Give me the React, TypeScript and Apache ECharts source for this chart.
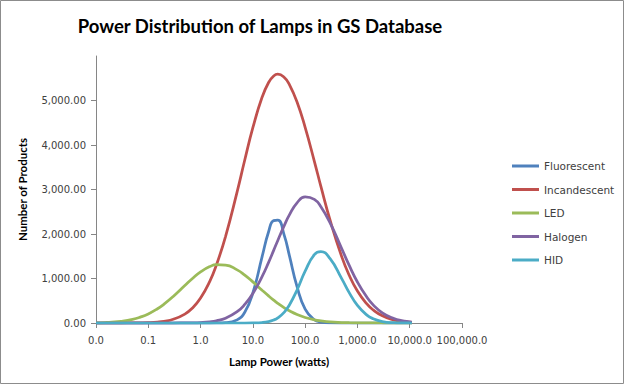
import React, { useEffect, useRef } from "react";
import * as echarts from "echarts";

const titleText = "Power Distribution of Lamps in GS Database";
const xAxisName = "Lamp Power (watts)";
const yAxisName = "Number of Products";
const seriesNames = ["Fluorescent", "Incandescent", "LED", "Halogen", "HID"];
const seriesColors = ["#4F81BD", "#C0504D", "#9BBB59", "#8064A2", "#4BACC6"];

// Lamp power (watts), log axis
const powerW = [
  0.01, 0.015, 0.02, 0.03, 0.05, 0.07,
  0.1, 0.15, 0.2, 0.3, 0.5, 0.7,
  1, 1.5, 2, 3, 5, 7,
  10, 15, 20, 25, 30, 40, 50, 70,
  100, 150, 200, 300, 500, 700,
  1000, 1500, 2000, 3000, 5000, 7000,
  10000, 11000,
];

const fluorescent = [
  0, 0, 0, 0, 0, 0, 0, 0, 0, 0, 0, 0, 0, 0,
  1, 6, 70, 243, 675, 1487, 2051, 2300, 2310, 1962, 1513, 815, 314, 73, 21, 2,
  0, 0, 0, 0, 0, 0, 0, 0, 0, 0,
];
const incandescent = [
  0, 0, 0, 0, 2, 4, 9, 21, 38, 83,
  200, 337, 561, 937, 1298, 1943, 2946, 3662, 4388, 5073,
  5405, 5550, 5590, 5517, 5357, 4966, 4396, 3634, 3070, 2310,
  1492, 1067, 717, 433, 293, 161, 70, 39, 20, 16,
];
const led = [
  5, 11, 19, 38, 82, 131, 204, 320, 423, 596,
  841, 1000, 1148, 1267, 1309, 1302, 1194, 1076, 924, 738,
  609, 514, 442, 341, 274, 190, 124, 72, 48, 25,
  11, 6, 3, 1, 1, 0, 0, 0, 0, 0,
];
const halogen = [
  0, 0, 0, 0, 0, 0, 0, 0, 0, 0,
  2, 4, 11, 27, 49, 107, 254, 417, 664, 1042,
  1363, 1632, 1855, 2195, 2429, 2699, 2834, 2777, 2613, 2250,
  1672, 1288, 922, 588, 408, 228, 99, 53, 26, 21,
];
const hid = [
  0, 0, 0, 0, 0, 0, 0, 0, 0, 0, 0, 0, 0, 0, 0, 0, 0, 0,
  2, 11, 32, 67, 116, 246, 405, 742, 1165, 1536, 1603, 1445,
  998, 677, 395, 183, 96, 33, 7, 2, 1, 0,
];
const seriesValues = [fluorescent, incandescent, led, halogen, hid];
const yTicks = [0, 1000, 2000, 3000, 4000, 5000];

const tickFont = "DejaVu Sans";
const boldFont = "Lato";
const textColor = "#404040";
const axisColor = "#868686";

export default function App() {
  const ref = useRef<HTMLDivElement>(null);
  useEffect(() => {
    if (!ref.current) return;
    const chart = echarts.init(ref.current, null, { renderer: "svg" });
    const fmt = (v: number, d: number) =>
      Number(v).toLocaleString("en-US", { minimumFractionDigits: d, maximumFractionDigits: d });
    chart.setOption({
      animation: false,
      backgroundColor: "#ffffff",
      graphic: [
        {
          type: "rect",
          shape: { x: 0.5, y: 0.5, width: 623, height: 383 },
          style: { fill: "none", stroke: "#8c8c8c", lineWidth: 1 },
          silent: true,
        },
        {
          type: "text",
          x: 260,
          y: 26,
          style: {
            text: titleText,
            fontFamily: boldFont,
            fontWeight: "bold",
            fontSize: 18.5,
            fill: "#000000",
            textAlign: "center",
            textVerticalAlign: "middle",
          },
        },
      ],
      grid: { left: 96, right: 163, top: 56, bottom: 62, containLabel: false },
      legend: {
        orient: "vertical",
        left: 507,
        top: 154,
        icon: "rect",
        itemWidth: 27,
        itemHeight: 3,
        itemGap: 9.5,
        data: seriesNames,
        textStyle: {
          fontFamily: tickFont,
          fontSize: 10.5,
          color: textColor,
          lineHeight: 14,
        },
      },
      xAxis: {
        type: "log",
        logBase: 10,
        min: 0.01,
        max: 100000,
        splitNumber: 7,
        name: xAxisName,
        nameLocation: "middle",
        nameGap: 32,
        nameTextStyle: { fontFamily: boldFont, fontWeight: "bold", fontSize: 11.5, color: "#000" },
        axisLine: { show: true, lineStyle: { color: axisColor, width: 1 } },
        axisTick: { show: true, length: 5, inside: false, lineStyle: { color: axisColor } },
        minorTick: { show: false },
        splitLine: { show: false },
        axisLabel: {
          margin: 12,
          fontFamily: tickFont,
          fontSize: 10,
          color: textColor,
          formatter: (v: number) => fmt(v, 1),
        },
      },
      yAxis: {
        type: "value",
        min: 0,
        max: 6000,
        interval: 1000,
        name: yAxisName,
        nameLocation: "middle",
        nameGap: 68,
        nameTextStyle: { fontFamily: boldFont, fontWeight: "bold", fontSize: 11.5, color: "#000" },
        axisLine: { show: true, lineStyle: { color: axisColor, width: 1 } },
        axisTick: { show: true, length: 5, inside: false, lineStyle: { color: axisColor }, customValues: yTicks },
        splitLine: { show: false },
        axisLabel: {
          margin: 10,
          fontFamily: tickFont,
          fontSize: 10,
          color: textColor,
          customValues: yTicks,
          formatter: (v: number) => fmt(v, 2),
        },
      },
      series: seriesNames.map((name, i) => ({
        name,
        type: "line",
        data: powerW.map((x, j) => [x, seriesValues[i][j]]),
        smooth: 0.5,
        symbol: "none",
        showSymbol: false,
        lineStyle: { width: 2.75, color: seriesColors[i] },
        itemStyle: { color: seriesColors[i] },
        z: 2 + i,
      })),
    });
    return () => chart.dispose();
  }, []);
  return (
    <div
      ref={ref}
      style={{ position: "fixed", left: 0, top: 0, width: 625, height: 385 }}
    />
  );
}
